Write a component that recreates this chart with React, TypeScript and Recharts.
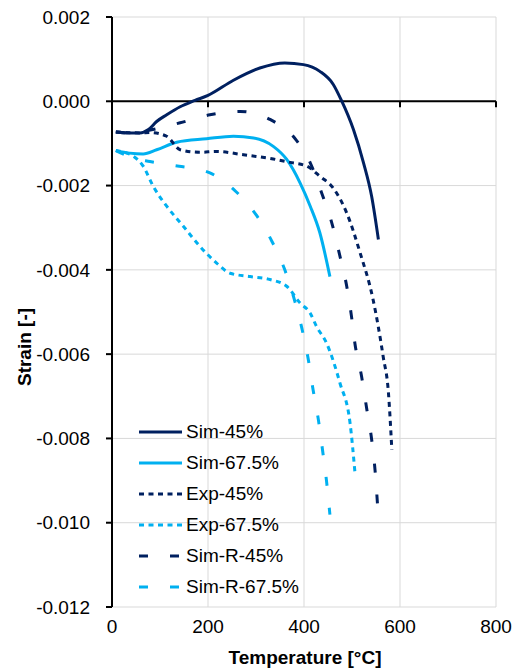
import { LineChart, Line, XAxis, YAxis, CartesianGrid, ReferenceLine, Legend, Label } from 'recharts';

const FONT = '"Liberation Sans", Arial, sans-serif';
const NAVY = '#002060';
const SKY = '#00B0F0';

const tempTicks = [0, 200, 400, 600, 800];
const strainTicks = [-0.012, -0.01, -0.008, -0.006, -0.004, -0.002, 0, 0.002];

// Sim-45%
const sim45Temp = [8, 30, 58, 76, 93, 114, 142, 173, 200, 253, 308, 360, 399, 433, 461, 478, 503, 524, 541, 555];
const sim45Strain = [-0.00073, -0.00075, -0.00075, -0.00067, -0.00048, -0.00032, -0.00013, 0.00002, 0.00014, 0.0005, 0.00079, 0.00091, 0.00087, 0.00071, 0.0004, 0.00002, -0.00067, -0.00146, -0.00226, -0.00328];

// Sim-67.5%
const sim675Temp = [8, 37, 65, 93, 135, 197, 253, 295, 336, 364, 392, 413, 433, 454];
const sim675Strain = [-0.00117, -0.00123, -0.00125, -0.00115, -0.00097, -0.00089, -0.00083, -0.00087, -0.00107, -0.00138, -0.00194, -0.00249, -0.00312, -0.00416];

// Exp-45%
const exp45Temp = [8, 58, 80, 114, 142, 183, 218, 274, 336, 371, 406, 433, 461, 489, 517, 544, 565, 576, 583];
const exp45Strain = [-0.00073, -0.00075, -0.00074, -0.00083, -0.00115, -0.00121, -0.00119, -0.00127, -0.00137, -0.00145, -0.00154, -0.00178, -0.00206, -0.00265, -0.0036, -0.00471, -0.00606, -0.00693, -0.00827];

// Exp-67.5%
const exp675Temp = [8, 44, 65, 86, 114, 149, 183, 218, 246, 288, 329, 364, 392, 413, 426, 447, 475, 496, 506];
const exp675Strain = [-0.00117, -0.0013, -0.00154, -0.00202, -0.00249, -0.00297, -0.00344, -0.00384, -0.00408, -0.00416, -0.00423, -0.00439, -0.00479, -0.00503, -0.00534, -0.00574, -0.00669, -0.00764, -0.00879];

// Sim-R-45%
const simR45Temp = [8, 40, 80, 142, 204, 267, 329, 383, 413, 437, 458, 475, 489, 499, 506, 520, 531, 541, 548, 553];
const simR45Strain = [-0.00073, -0.00075, -0.00068, -0.00051, -0.00032, -0.00024, -0.00043, -0.00091, -0.00146, -0.00218, -0.00289, -0.00368, -0.00439, -0.00511, -0.00574, -0.00653, -0.00732, -0.00803, -0.00875, -0.00954];

// Sim-R-67.5%
const simR675Temp = [8, 45, 79, 140, 175, 204, 258, 300, 333, 360, 378, 395, 409, 419, 430, 439, 447, 454];
const simR675Strain = [-0.00117, -0.00135, -0.00143, -0.00154, -0.0016, -0.0017, -0.00214, -0.00269, -0.00332, -0.004, -0.00463, -0.00536, -0.00613, -0.00685, -0.00756, -0.00831, -0.00902, -0.00981];

const DOTTED = '5 4.5';
const LONG_DASH = '9 22';

const toPoints = (temps: number[], strains: number[]) =>
    temps.map((t, i) => ({ temp: t, strain: strains[i] }));

const series = [
    { name: 'Sim-45%', color: NAVY, dash: undefined, data: toPoints(sim45Temp, sim45Strain) },
    { name: 'Sim-67.5%', color: SKY, dash: undefined, data: toPoints(sim675Temp, sim675Strain) },
    { name: 'Exp-45%', color: NAVY, dash: DOTTED, data: toPoints(exp45Temp, exp45Strain) },
    { name: 'Exp-67.5%', color: SKY, dash: DOTTED, data: toPoints(exp675Temp, exp675Strain) },
    { name: 'Sim-R-45%', color: NAVY, dash: LONG_DASH, data: toPoints(simR45Temp, simR45Strain) },
    { name: 'Sim-R-67.5%', color: SKY, dash: LONG_DASH, data: toPoints(simR675Temp, simR675Strain) },
];

// little downward tick marks on the zero line, in strain units
const ZERO_TICK = 0.00014;

const renderLegend = () => (
    <div style={{ fontFamily: FONT, fontSize: 19, color: '#000' }}>
        {series.map((s) => (
            <div key={s.name} style={{ display: 'flex', alignItems: 'center', height: 31 }}>
                <svg width={43} height={6} style={{ display: 'block' }}>
                    <line x1={0} y1={3} x2={43} y2={3} stroke={s.color} strokeWidth={3} strokeDasharray={s.dash} />
                </svg>
                <span style={{ marginLeft: 4, whiteSpace: 'nowrap' }}>{s.name}</span>
            </div>
        ))}
    </div>
);

export default function App() {
    return (
        <div style={{ position: 'absolute', left: 0, top: 0, background: '#fff' }}>
            <LineChart width={520} height={669} margin={{ top: 17, right: 24, bottom: 0, left: 0 }}>
                <CartesianGrid stroke="#d9d9d9" strokeWidth={1} />
                <XAxis
                    type="number"
                    dataKey="temp"
                    domain={[0, 800]}
                    ticks={tempTicks}
                    height={62}
                    axisLine={false}
                    tickLine={false}
                    tickMargin={7}
                    tick={{ fontSize: 19, fontFamily: FONT, fill: '#000' }}
                    allowDuplicatedCategory={false}
                >
                    <Label
                        content={() => (
                            <text x={305} y={664} textAnchor="middle" fontFamily={FONT} fontSize={19} fontWeight="bold" fill="#000">
                                Temperature [°C]
                            </text>
                        )}
                    />
                </XAxis>
                <YAxis
                    type="number"
                    dataKey="strain"
                    domain={[-0.012, 0.002]}
                    ticks={strainTicks}
                    width={112}
                    axisLine={{ stroke: '#000', strokeWidth: 2 }}
                    tickLine={{ stroke: '#000', strokeWidth: 2 }}
                    tickSize={6}
                    tickMargin={16}
                    tickFormatter={(v: number) => v.toFixed(3)}
                    tick={{ fontSize: 19, fontFamily: FONT, fill: '#000' }}
                >
                    <Label
                        content={() => (
                            <text
                                x={31}
                                y={347}
                                transform="rotate(-90 31 347)"
                                textAnchor="middle"
                                fontFamily={FONT}
                                fontSize={19}
                                fontWeight="bold"
                                fill="#000"
                            >
                                Strain [-]
                            </text>
                        )}
                    />
                </YAxis>
                <ReferenceLine y={0} stroke="#000" strokeWidth={2} />
                {tempTicks.slice(1).map((t) => (
                    <ReferenceLine
                        key={t}
                        segment={[{ x: t, y: 0 }, { x: t, y: -ZERO_TICK }]}
                        stroke="#000"
                        strokeWidth={2}
                        ifOverflow="visible"
                    />
                ))}
                {series.map((s) => (
                    <Line
                        key={s.name}
                        data={s.data}
                        dataKey="strain"
                        name={s.name}
                        type="monotone"
                        stroke={s.color}
                        strokeWidth={3}
                        strokeDasharray={s.dash}
                        dot={false}
                        activeDot={false}
                        isAnimationActive={false}
                    />
                ))}
                <Legend
                    layout="horizontal"
                    verticalAlign="middle"
                    align="center"
                    content={renderLegend}
                    wrapperStyle={{ left: 139, top: 416, width: 'auto', height: 'auto' }}
                />
            </LineChart>
        </div>
    );
}
